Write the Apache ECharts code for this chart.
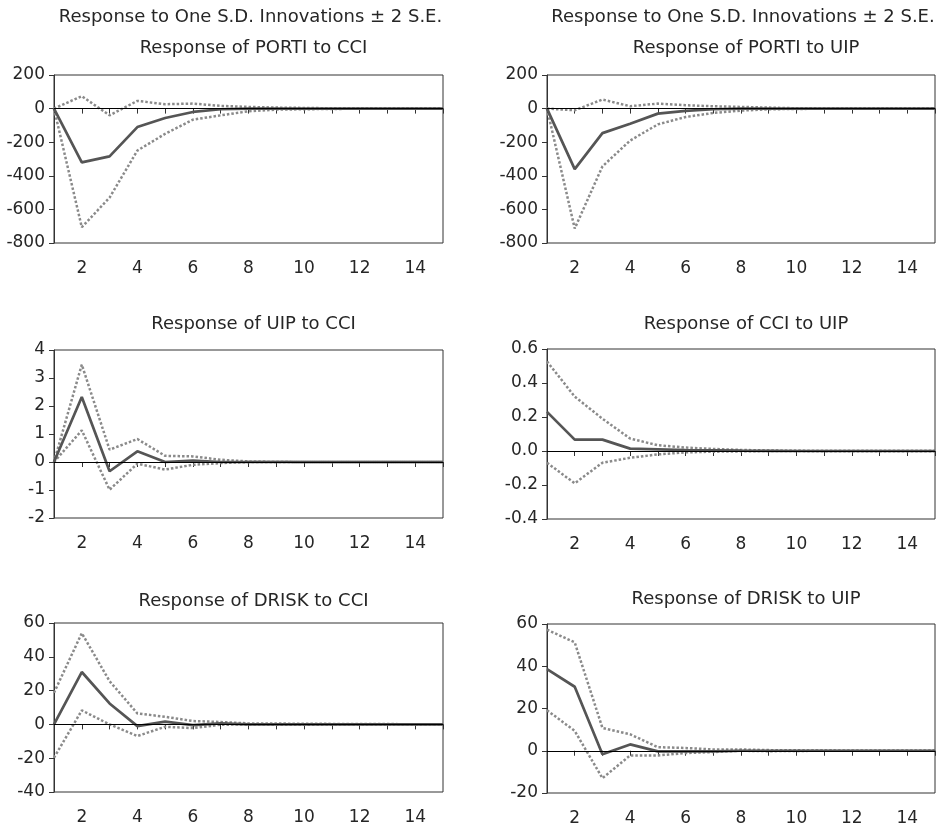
<!DOCTYPE html>
<html>
<head>
<meta charset="utf-8">
<script src="https://cdn.jsdelivr.net/npm/echarts@6/dist/echarts.min.js"></script>
<style>
  html, body { margin: 0; padding: 0; background: #fff; }
  #chart { width: 938px; height: 828px; }
</style>
</head>
<body>
<div id="chart"></div>
<script>
// periods 1..15
const periods = [1, 2, 3, 4, 5, 6, 7, 8, 9, 10, 11, 12, 13, 14, 15];

// Response of PORTI to CCI
const portiCciMid = [0, -320, -284, -110, -56, -20, -4, 0, 0, 0, 0, 0, 0, 0, 0];
const portiCciUp  = [0, 74, -40, 46, 26, 30, 16, 10, 6, 4, 2, 2, 1, 0, 0];
const portiCciLo  = [0, -706, -530, -250, -150, -66, -40, -16, -6, -4, -2, -1, 0, 0, 0];

// Response of PORTI to UIP
const portiUipMid = [0, -360, -146, -90, -30, -14, -4, 0, 0, 0, 0, 0, 0, 0, 0];
const portiUipUp  = [0, -10, 54, 14, 30, 20, 14, 10, 6, 2, 1, 0, 0, 0, 0];
const portiUipLo  = [0, -714, -344, -190, -94, -50, -26, -12, -4, -2, -1, 0, 0, 0, 0];

// Response of UIP to CCI
const uipCciMid = [0, 2.32, -0.33, 0.38, 0.0, 0.05, 0.0, 0, 0, 0, 0, 0, 0, 0, 0];
const uipCciUp  = [0, 3.48, 0.44, 0.82, 0.22, 0.2, 0.08, 0.02, 0.01, 0, 0, 0, 0, 0, 0];
const uipCciLo  = [0, 1.13, -0.99, -0.06, -0.27, -0.1, -0.04, 0, 0, 0, 0, 0, 0, 0, 0];

// Response of CCI to UIP
const cciUipMid = [0.23, 0.067, 0.067, 0.014, 0.01, 0.006, 0.004, 0.002, 0.001, 0, 0, 0, 0, 0, 0];
const cciUipUp  = [0.527, 0.32, 0.19, 0.073, 0.034, 0.02, 0.012, 0.006, 0.003, 0.001, 0, 0, 0, 0, 0];
const cciUipLo  = [-0.069, -0.19, -0.069, -0.04, -0.02, -0.008, -0.004, -0.002, 0, 0, 0, 0, 0, 0, 0];

// Response of DRISK to CCI
const driskCciMid = [0, 31, 12.4, -1, 1.6, -0.4, 0.6, 0, 0, 0, 0, 0, 0, 0, 0];
const driskCciUp  = [18.7, 54, 25.6, 6.5, 4.5, 2, 1.4, 0.6, 0.5, 0.4, 0.3, 0.2, 0.2, 0.1, 0.1];
const driskCciLo  = [-19.7, 8.3, 0, -6.9, -1.4, -2.2, -0.2, 0, -0.2, -0.2, -0.1, -0.1, 0, 0, 0];

// Response of DRISK to UIP
const driskUipMid = [38.6, 30.3, -1.7, 3.0, -0.3, -0.3, -0.3, 0, 0, 0, 0, 0, 0, 0, 0];
const driskUipUp  = [57.3, 51.3, 10.8, 7.8, 1.7, 1.3, 0.6, 0.6, 0.3, 0.2, 0.1, 0, 0, 0, 0];
const driskUipLo  = [19.2, 9.4, -13, -2.2, -2.2, -1.1, -0.6, 0, -0.2, -0.1, 0, 0, 0, 0, 0];

const panelTitles = [
  "Response of PORTI to CCI", "Response of PORTI to UIP",
  "Response of UIP to CCI", "Response of CCI to UIP",
  "Response of DRISK to CCI", "Response of DRISK to UIP"
];
const superTitle = "Response to One S.D. Innovations \u00b1 2 S.E.";

// y axis ranges [min, max, interval, decimals]
const yRanges = [
  [-800, 200, 200, 0], [-800, 200, 200, 0],
  [-2, 4, 1, 0], [-0.4, 0.6, 0.2, 1],
  [-40, 60, 20, 0], [-20, 60, 20, 0]
];

const panelData = [
  [portiCciMid, portiCciUp, portiCciLo],
  [portiUipMid, portiUipUp, portiUipLo],
  [uipCciMid, uipCciUp, uipCciLo],
  [cciUipMid, cciUipUp, cciUipLo],
  [driskCciMid, driskCciUp, driskCciLo],
  [driskUipMid, driskUipUp, driskUipLo]
];

const FONT = "DejaVu Sans";
const TEXT = "#262626";
const AXIS = "#333";

// grid boxes [left, top, width, height]
const grids = [
  [54, 75, 389, 168], [547, 75, 388, 168],
  [54, 350, 389, 168], [547, 349, 388, 170],
  [54, 623, 389, 169], [547, 624, 388, 169]
];
const titleY = [44, 44, 320, 320, 597, 595];

const chart = echarts.init(document.getElementById("chart"));

const title = [];
const grid = [];
const xAxis = [];
const yAxis = [];
const series = [];

grids.forEach((g, i) => {
  const cx = g[0] + g[2] / 2;
  grid.push({
    left: g[0], top: g[1], width: g[2], height: g[3],
    show: true, borderColor: AXIS, borderWidth: 1, backgroundColor: "transparent"
  });
  title.push({
    text: panelTitles[i], left: cx, top: titleY[i] - 10, textAlign: "center",
    textStyle: { fontFamily: FONT, fontSize: 18, fontWeight: "normal", color: TEXT }
  });
  if (i < 2) {
    title.push({
      text: superTitle, left: cx - 3, top: 13 - 10, textAlign: "center",
      textStyle: { fontFamily: FONT, fontSize: 18, fontWeight: "normal", color: TEXT }
    });
  }
  xAxis.push({
    gridIndex: i, type: "value", min: 1, max: 15, interval: 1,
    axisLine: { lineStyle: { color: AXIS, width: 1 } },
    axisTick: { show: true, length: 5, lineStyle: { color: AXIS } },
    splitLine: { show: false },
    axisLabel: {
      margin: 17, fontFamily: FONT, fontSize: 17, color: TEXT,
      formatter: (v) => (v % 2 === 0 ? String(v) : "")
    }
  });
  const r = yRanges[i];
  yAxis.push({
    gridIndex: i, type: "value", min: r[0], max: r[1], interval: r[2],
    axisLine: { show: true, lineStyle: { color: AXIS, width: 1 } },
    axisTick: { show: true, length: 5, lineStyle: { color: AXIS } },
    splitLine: { show: false },
    axisLabel: {
      margin: 9, fontFamily: FONT, fontSize: 17, color: TEXT,
      formatter: (v) => Number(v).toFixed(r[3])
    }
  });

  const [mid, up, lo] = panelData[i];
  const pairs = (arr) => periods.map((p, k) => [p, arr[k]]);

  [up, lo].forEach((band) => {
    series.push({
      type: "line", xAxisIndex: i, yAxisIndex: i, data: pairs(band),
      symbol: "none", silent: true,
      lineStyle: { color: "#8a8a8a", width: 2.5, type: [2.5, 2] }
    });
  });
  series.push({
    type: "line", xAxisIndex: i, yAxisIndex: i, data: pairs(mid),
    symbol: "none", silent: true, z: 3,
    lineStyle: { color: "#555", width: 2.7 },
    markLine: {
      silent: true, symbol: "none", label: { show: false },
      lineStyle: { color: "#000", width: 1, type: "solid" },
      data: [{ yAxis: 0 }]
    }
  });
});

chart.setOption({
  animation: false,
  title, grid, xAxis, yAxis, series
});
</script>
</body>
</html>
